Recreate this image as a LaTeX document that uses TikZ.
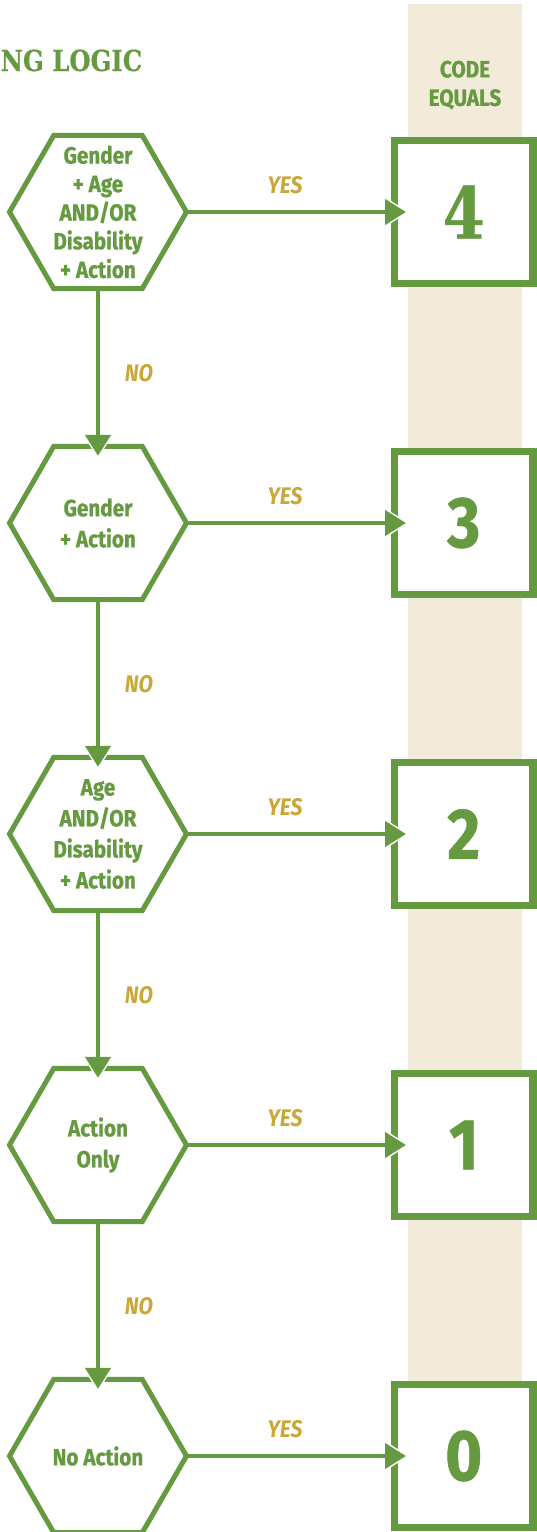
\documentclass[tikz,border=0pt]{standalone}
\usepackage{fontspec}
\usetikzlibrary{shapes.geometric,arrows.meta}
\setmainfont{Fira Sans}
\newfontfamily\condfont[FakeStretch=0.88, BoldFeatures={FakeBold=0.8}]{Fira Sans}
\newfontfamily\slabfont[FakeStretch=0.84, BoldFeatures={FakeBold=0.5}]{DejaVu Serif}
\definecolor{leaf}{HTML}{659A41}
\definecolor{gold}{HTML}{C9A73A}
\definecolor{tanbg}{HTML}{F2EBDA}
\begin{document}
\begin{tikzpicture}[x=1pt,y=-1pt,
  hexa/.style={regular polygon, regular polygon sides=6, minimum size=177pt,
    inner sep=0pt, outer sep=0pt, draw=leaf, line width=5pt, fill=white},
  hextext/.style={text=leaf, inner sep=0pt, align=center,
    font=\condfont\bfseries\fontsize{23.5}{31}\selectfont},
  codebox/.style={rectangle, minimum width=138.5pt, minimum height=143pt,
    inner sep=0pt, outer sep=0pt, draw=leaf, line width=7.5pt, fill=white,
    text=leaf, font=\condfont\bfseries\fontsize{72}{72}\selectfont},
  conn/.style={draw=leaf, line width=4.5pt, -{Triangle[length=21pt,width=25pt]}},
  halo/.style={draw=white, line width=4.5pt, -{Triangle[length=26pt,width=31pt]}},
  yeslab/.style={text=gold, font=\condfont\bfseries\itshape\fontsize{24}{24}\selectfont},
]
\useasboundingbox (0,0) rectangle (537,1532);
% background column
\fill[tanbg] (408,4) rectangle (522,1456);
% title and header
\node[anchor=base west, text=leaf, inner sep=0pt,
  font=\slabfont\bfseries\fontsize{29}{29}\selectfont] (title) at (0.5,71) {NG LOGIC};
\node[text=leaf, align=center, inner sep=0pt,
  font=\condfont\bfseries\fontsize{23.5}{28.5}\selectfont] (hdr) at (465,85) {CODE\\EQUALS};
% decisions
\node[hexa] (h4) at (98,212) {};
\node[hexa] (h3) at (98,523) {};
\node[hexa] (h2) at (98,834) {};
\node[hexa] (h1) at (98,1145) {};
\node[hexa] (h0) at (98,1456) {};
\node[hextext, font=\condfont\bfseries\fontsize{23.5}{28.6}\selectfont] (t4) at (h4)
  {Gender\\+ Age\\AND/OR\\Disability\\+ Action};
\node[hextext] (t3) at (h3) {Gender\\+ Action};
\node[hextext] (t2) at (h2) {Age\\AND/OR\\Disability\\+ Action};
\node[hextext] (t1) at (h1) {Action\\Only};
\node[hextext] (t0) at (h0) {No Action};
% code boxes
\node[codebox, font=\slabfont\bfseries\fontsize{72}{72}\selectfont] (b4) at (463.75,212) {4};
\node[codebox] (b3) at (463.75,523) {3};
\node[codebox] (b2) at (463.75,834) {2};
\node[codebox] (b1) at (463.75,1145) {1};
\node[codebox] (b0) at (463.75,1456) {0};
% white halos under arrow tips
\foreach \a/\b in {h4/b4,h3/b3,h2/b2,h1/b1,h0/b0}{
  \draw[halo, shorten >=-14.5pt] (\a.east) -- (\b.west);
}
\foreach \a/\b in {h4/h3,h3/h2,h2/h1,h1/h0}{
  \draw[halo, shorten >=-12.5pt] (\a.south) -- (\b.north);
}
% connectors
\foreach \a/\b in {h4/b4,h3/b3,h2/b2,h1/b1,h0/b0}{
  \draw[conn, shorten >=-11.5pt] (\a.east) -- (\b.west);
}
\foreach \a/\b in {h4/h3,h3/h2,h2/h1,h1/h0}{
  \draw[conn, shorten >=-9.5pt] (\a.south) -- (\b.north);
}
% labels
\foreach \r/\y in {4/212,3/523,2/834,1/1145,0/1456}{
  \node[yeslab] (yes\r) at (285,\y-27) {YES};
}
\foreach \r/\y in {4/212,3/523,2/834,1/1145}{
  \node[yeslab] (no\r) at (139,\y+161) {NO};
}
\end{tikzpicture}
\end{document}
